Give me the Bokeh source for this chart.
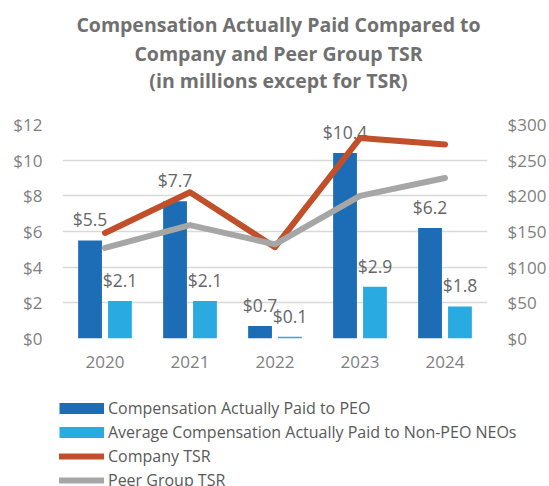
from bokeh.plotting import figure
from bokeh.layouts import column
from bokeh.models import (FactorRange, Range1d, LinearAxis, FixedTicker, PrintfTickFormatter,
                          Legend, LegendItem, ColumnDataSource, Label, Plot)
from bokeh.transform import dodge
from bokeh.core.properties import value
from bokeh.embed import file_html
from bokeh.resources import INLINE

# ---- data ----
years = ["2020", "2021", "2022", "2023", "2024"]
peo_cap = [5.5, 7.7, 0.7, 10.4, 6.2]
neo_cap = [2.1, 2.1, 0.1, 2.9, 1.8]
company_tsr = [148, 205, 128, 281, 272]
peer_tsr = [127, 159, 132, 200, 225]
left_ticks = [0, 2, 4, 6, 8, 10, 12]
right_ticks = [0, 50, 100, 150, 200, 250, 300]
title_lines = ["Compensation Actually Paid Compared to",
               "Company and Peer Group TSR",
               "(in millions except for TSR)"]
series_names = ["Compensation Actually Paid to PEO",
                "Average Compensation Actually Paid to Non-PEO NEOs",
                "Company TSR",
                "Peer Group TSR"]

FONT = "Open Sans"
C_PEO = "#1C6DB5"
C_NEO = "#29ABE2"
C_CO = "#C1502A"
C_PEER = "#A6A6A6"
TICK_COLOR = "#7F7F7F"
TITLE_COLOR = "#707070"
W = 549
HAS_FRAME_ALIGN = "frame_align" in Plot.properties()


def blank_figure(h):
    f = figure(width=W, height=h, x_range=Range1d(0, W), y_range=Range1d(h, 0),
               x_axis_location=None, y_axis_location=None, title=None,
               min_border=0, toolbar_location=None, output_backend="svg")
    if HAS_FRAME_ALIGN:
        f.frame_align = False
    f.grid.visible = False
    f.outline_line_color = None
    f.background_fill_color = "white"
    f.border_fill_color = "white"
    return f


# ---------- title block ----------
title_fig = blank_figure(100)
for txt, yy in zip(title_lines, [24, 52.5, 79.5]):
    title_fig.add_layout(Label(x=278, y=yy, text=txt, text_align="center",
                               text_baseline="middle", text_font=FONT,
                               text_font_size="19.5px", text_font_style="bold",
                               text_color=TITLE_COLOR))

# ---------- chart ----------
src = ColumnDataSource(dict(
    year=years, peo=peo_cap, neo=neo_cap,
    peo_lbl=[f"${v:.1f}" for v in peo_cap],
    neo_lbl=[f"${v:.1f}" for v in neo_cap],
    co=company_tsr, peer=peer_tsr,
))

p = figure(width=W, height=280, x_range=FactorRange(*years), y_range=Range1d(0, 12),
           output_backend="svg", toolbar_location=None, title=None,
           min_border_left=62, min_border_right=62, min_border_top=24, min_border_bottom=42)
if HAS_FRAME_ALIGN:
    p.frame_align = False
p.extra_y_ranges = {"tsr": Range1d(0, 300)}
p.outline_line_color = None
p.background_fill_color = None
p.border_fill_color = "white"

p.yaxis[0].ticker = FixedTicker(ticks=left_ticks)
p.yaxis[0].formatter = PrintfTickFormatter(format="$%d")
right = LinearAxis(y_range_name="tsr", ticker=FixedTicker(ticks=right_ticks),
                   formatter=PrintfTickFormatter(format="$%d"))
p.add_layout(right, "right")
xaxis = p.xaxis[0]
for ax in [p.yaxis[0], right, xaxis]:
    ax.axis_line_color = None
    ax.major_tick_line_color = None
    ax.minor_tick_line_color = None
    ax.major_tick_out = 0
    ax.major_tick_in = 0
    ax.minor_tick_out = 0
    ax.major_label_text_font = FONT
    ax.major_label_text_font_size = "17px"
    ax.major_label_text_color = TICK_COLOR
p.yaxis[0].major_label_standoff = 20
right.major_label_standoff = 20
xaxis.major_label_standoff = 17

p.xgrid.grid_line_color = None
p.ygrid.grid_line_color = "#D9D9D9"
p.ygrid.grid_line_width = 1.5
p.ygrid.ticker = FixedTicker(ticks=left_ticks)

# bars
p.vbar(x=dodge("year", -0.176, range=p.x_range), top="peo", width=0.28, source=src,
       fill_color=C_PEO, line_color=None)
p.vbar(x=dodge("year", 0.176, range=p.x_range), top="neo", width=0.28, source=src,
       fill_color=C_NEO, line_color=None)

# data labels
for col, off in [("peo_lbl", -0.176), ("neo_lbl", 0.176)]:
    p.text(x=dodge("year", off, range=p.x_range), y=col.split("_")[0], text=col, source=src,
           text_align="center", text_baseline="middle", y_offset=-21,
           text_font=value(FONT), text_font_size="17.5px", text_color="#666666")

# TSR lines
p.line(x="year", y="co", source=src, y_range_name="tsr", line_color=C_CO, line_width=6,
       line_cap="round", line_join="round")
p.line(x="year", y="peer", source=src, y_range_name="tsr", line_color=C_PEER, line_width=6,
       line_cap="round", line_join="round")

# ---------- legend block ----------
leg_fig = blank_figure(106)
# single-point proxies: they draw nothing in the plot, only the legend swatches
r1 = leg_fig.line(x=[-10], y=[-10], line_color=C_PEO, line_width=11, line_cap="butt")
r2 = leg_fig.line(x=[-10], y=[-10], line_color=C_NEO, line_width=11, line_cap="butt")
r3 = leg_fig.line(x=[-10], y=[-10], line_color=C_CO, line_width=6, line_cap="round")
r4 = leg_fig.line(x=[-10], y=[-10], line_color=C_PEER, line_width=6, line_cap="round")
legend_x = 59 if HAS_FRAME_ALIGN else -3
legend = Legend(items=[LegendItem(label=n, renderers=[r]) for n, r in
                       zip(series_names, [r1, r2, r3, r4])],
                location=(legend_x, -4.5), orientation="vertical",
                glyph_width=45, glyph_height=22, label_height=22, spacing=2,
                label_standoff=4, padding=0, margin=0,
                border_line_color=None, background_fill_alpha=0,
                label_text_font=FONT, label_text_font_size="16px",
                label_text_color="#595959")
leg_fig.add_layout(legend, "center")

layout = column(title_fig, p, leg_fig, spacing=0)
open("out.html", "w").write(file_html(layout, INLINE))
